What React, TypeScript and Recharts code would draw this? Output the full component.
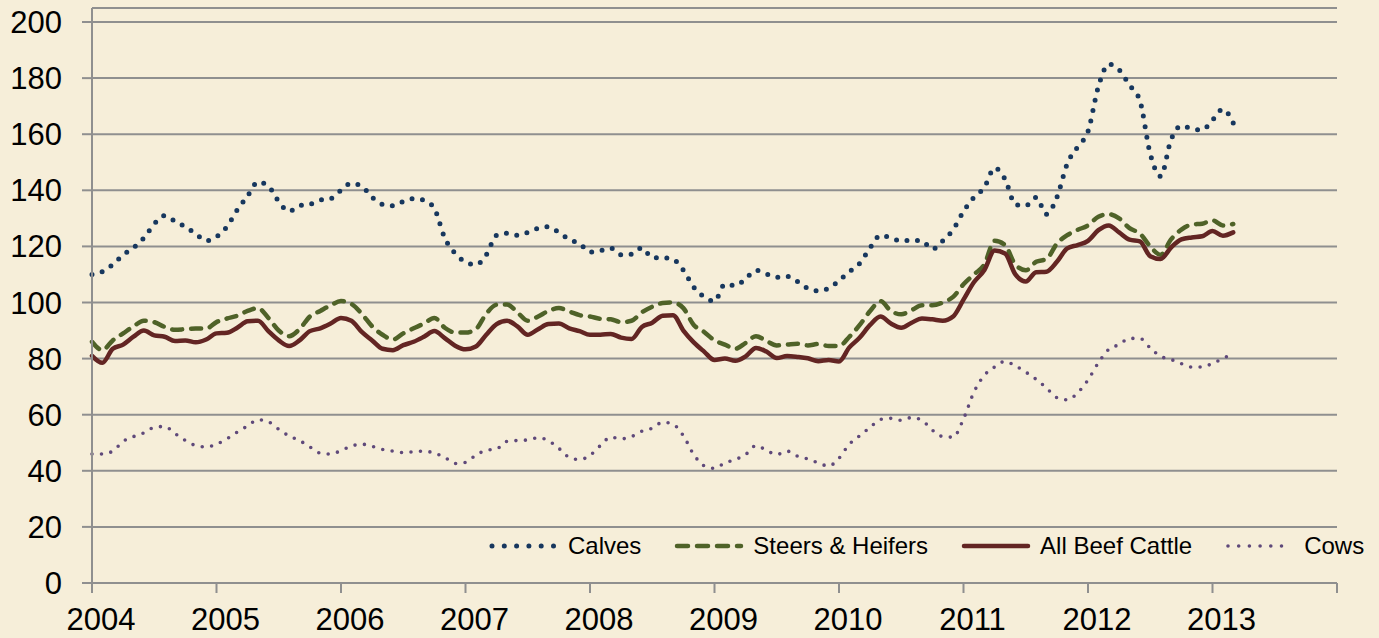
import { LineChart, Line, XAxis, YAxis, CartesianGrid, Legend } from 'recharts';

const START_YEAR = 2004;

// monthly index prices, Jan 2004 .. Mar 2013
const calves = [
  110, 111, 113.5, 117, 119.5, 123, 128, 131, 129, 127, 124.5, 122,
  123.5, 127, 133, 138, 143, 141.5, 136, 132.5, 134.5, 135, 136.5, 137,
  140, 142.5, 141.5, 137.5, 135, 134.5, 136, 137, 136.5, 133.5, 123, 117.5,
  114.5, 113.5, 117, 124, 124.7, 124, 125, 126.5, 127, 125, 122.5, 121,
  118, 118.5, 119.4, 117, 117.2, 119.5, 116, 116, 115.4, 111.5, 105.5, 102,
  100.5, 106.5, 106, 108.5, 111.5, 110.2, 109, 109.3, 107.5, 105, 104.2, 105,
  107.8, 111, 114, 119.5, 124, 123, 122, 122.2, 122, 119, 122, 126,
  132.5, 137.5, 141, 148, 144, 135, 134.5, 137.5, 131.5, 137.5, 149.5, 155.5,
  161, 177, 185, 183, 177.5, 172, 153, 145, 158, 163, 162, 161.5,
  165, 169, 164,
];

const steers = [
  86, 83, 86.5, 89, 91.5, 93.5, 93, 91.3, 90.3, 90.5, 90.7, 90.7,
  93, 94.3, 95.3, 97, 98, 94.5, 90, 88, 90.5, 95, 97, 99,
  100.5, 99.5, 96, 91.5, 88.5, 86.8, 89, 90.8, 92.5, 94.5, 91, 89.3,
  89.3, 90.5, 96, 99.2, 99.3, 96.5, 93.5, 95, 97, 98, 96.8, 95.5,
  95, 94.2, 94, 93, 93.5, 96.5, 98.5, 99.8, 100, 98, 92, 89.5,
  86.5, 85, 83.5, 85.6, 88, 86.3, 84.7, 85, 85.3, 84.7, 85.2, 84.5,
  84.5, 87.8, 92, 97, 100.5, 97, 95.8, 97.3, 99, 99, 100, 102,
  106.5, 110, 113.5, 122, 120.5, 113.5, 111.5, 114.5, 115.5, 121, 124, 125.9,
  127.5, 130.6, 131.5, 130, 126.5, 124.6, 120, 117, 122.5, 126, 127.8, 128.1,
  129.3, 127.5, 128,
];

const allBeef = [
  81, 78.5, 83.5, 85, 87.8, 90, 88.3, 87.8, 86.3, 86.5, 85.8, 86.8,
  89, 89.2, 91, 93.3, 93.5, 89.8, 86.5, 84.5, 86.5, 89.8, 90.8, 92.5,
  94.5, 93.5, 89.5, 86.5, 83.5, 83, 84.8, 86, 87.8, 89.8, 87.3, 84.6,
  83.3, 84.3, 88.5, 92.3, 93.5, 91.5, 88.5, 90.5, 92.3, 92.5, 90.8, 89.8,
  88.5, 88.5, 88.8, 87.5, 87, 91.3, 92.8, 95.3, 95.5, 90, 85.8, 82.5,
  79.5, 80, 79.2, 80.8, 83.8, 82.5, 80.2, 80.9, 80.6, 80.1, 79.1, 79.5,
  79, 84, 87.5, 92, 95, 92.5, 91, 92.8, 94.3, 94, 93.5, 95,
  101, 107.2, 111.5, 118.5, 117.5, 110, 107.5, 110.8, 111, 114.5, 119.3, 120.5,
  122, 125.8, 127.5, 125, 122.4, 121.8, 116.5, 115.5, 119.6, 122.5, 123.2, 123.6,
  125.5, 123.8, 125,
];

const cows = [
  46, 46, 47, 50.5, 52.2, 53.5, 55.5, 55.8, 53.3, 50.8, 49, 48.5,
  49.5, 51.4, 53.8, 56, 58.2, 57.5, 54.8, 52.4, 50.8, 48.5, 46.3, 46,
  47.2, 48.8, 49.5, 48.7, 47.6, 47, 46.5, 46.8, 47, 46.3, 44.8, 42.6,
  43, 45.6, 47.3, 47.8, 50.5, 50.8, 51, 51.8, 50.7, 48, 44.8, 44,
  45.5, 49, 52, 51.4, 52.2, 54.1, 55.2, 57.3, 56.6, 52.5, 45.8, 41.8,
  40.9, 42.8, 44, 45.8, 49, 47.3, 45.8, 47, 45.2, 44.2, 42.8, 41.7,
  44.5, 49.5, 52.5, 55.5, 58.3, 58.7, 58, 59, 58, 54.5, 52.2, 52,
  58.5, 68, 74, 77, 79, 77.4, 75.2, 72.6, 69.5, 66.1, 65.3, 67.8,
  72.4, 78.5, 83.3, 85, 87.2, 87.2, 83.8, 80.8, 79.7, 78.2, 77, 77,
  78.3, 80, 82,
];

const yearLabels = ['2004', '2005', '2006', '2007', '2008', '2009', '2010', '2011', '2012', '2013', ''];
const yTicks = [0, 20, 40, 60, 80, 100, 120, 140, 160, 180, 200];

const SERIES = [
  { key: 'calves', name: 'Calves', color: '#17375E', width: 5, dash: '0 10.5', legendDash: '0 12.3' },
  { key: 'steers', name: 'Steers & Heifers', color: '#4F6228', width: 4.5, dash: '10 9', legendDash: '11 9' },
  { key: 'allBeef', name: 'All Beef Cattle', color: '#632523', width: 4.5, dash: undefined, legendDash: undefined },
  { key: 'cows', name: 'Cows', color: '#5F497A', width: 3.6, dash: '0 9.5', legendDash: '0 10.7' },
];

const rows = calves.map((v, i) => ({
  t: i,
  month: `${START_YEAR + Math.floor(i / 12)}-${String((i % 12) + 1).padStart(2, '0')}`,
  calves: v,
  steers: steers[i],
  allBeef: allBeef[i],
  cows: cows[i],
}));

const xTicks = yearLabels.map((_, i) => i * 12);

const BG = '#F6EED9';
const GRID = '#8F8F8F';
const FONT = '"Liberation Sans", Arial, sans-serif';

function LegendContent() {
  return (
    <div style={{ display: 'flex', alignItems: 'center', height: 28, fontFamily: FONT, fontSize: 24, color: '#000' }}>
      {SERIES.map((s, idx) => (
        <div key={s.key} style={{ display: 'flex', alignItems: 'center', marginLeft: idx === 0 ? 0 : 32 }}>
          <svg width={72} height={12}>
            <line
              x1={4}
              x2={68}
              y1={6}
              y2={6}
              stroke={s.color}
              strokeWidth={s.width}
              strokeDasharray={s.legendDash}
              strokeLinecap="round"
            />
          </svg>
          <span style={{ marginLeft: 8, whiteSpace: 'nowrap', lineHeight: '28px' }}>{s.name}</span>
        </div>
      ))}
    </div>
  );
}

export default function App() {
  return (
    <div style={{ position: 'fixed', left: 0, top: 0, width: 1379, height: 638, background: BG }}>
      <LineChart
        width={1379}
        height={638}
        data={rows}
        margin={{ top: 8, right: 42, bottom: 0, left: 0 }}
        style={{ fontFamily: FONT }}
      >
        <CartesianGrid vertical={false} stroke={GRID} strokeWidth={2} />
        <XAxis
          dataKey="t"
          type="number"
          domain={[0, 120]}
          ticks={xTicks}
          interval={0}
          tickFormatter={(v: number) => yearLabels[Math.round(v / 12)]}
          height={55}
          tickSize={10}
          tickMargin={15}
          axisLine={{ stroke: GRID, strokeWidth: 2 }}
          tickLine={{ stroke: GRID, strokeWidth: 2 }}
          tick={{ fill: '#000', fontSize: 31, dx: 9 }}
        />
        <YAxis
          type="number"
          domain={[0, 205]}
          ticks={yTicks}
          interval={0}
          width={92}
          tickSize={10}
          tickMargin={20}
          axisLine={{ stroke: GRID, strokeWidth: 2 }}
          tickLine={{ stroke: GRID, strokeWidth: 2 }}
          tick={{ fill: '#000', fontSize: 31 }}
        />
        {SERIES.map((s) => (
          <Line
            key={s.key}
            dataKey={s.key}
            name={s.name}
            type="monotone"
            stroke={s.color}
            strokeWidth={s.width}
            strokeDasharray={s.dash}
            strokeLinecap="round"
            strokeLinejoin="round"
            dot={false}
            activeDot={false}
            isAnimationActive={false}
          />
        ))}
        <Legend
          layout="vertical"
          verticalAlign="middle"
          align="center"
          content={<LegendContent />}
          wrapperStyle={{ position: 'absolute', left: 488, top: 532, width: 'auto', height: 28 }}
        />
      </LineChart>
    </div>
  );
}
